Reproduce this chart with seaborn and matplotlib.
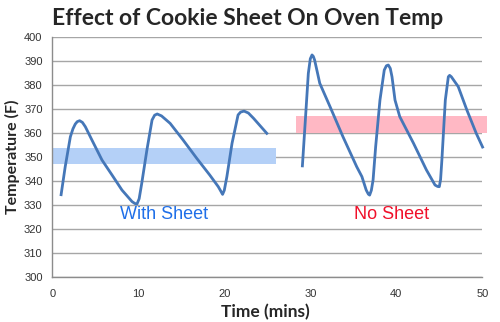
import matplotlib
matplotlib.use("Agg")
import matplotlib.pyplot as plt
import seaborn as sns
import pandas as pd

# Data
with_time = [1.0, 1.5, 2.1, 2.4, 2.67, 2.9, 3.18, 3.5, 3.84, 4.6, 5.78, 6.94, 8.1,
             9.27, 9.6, 9.85, 10.1, 10.4, 11.0, 11.6, 11.9, 12.2, 12.7, 13.7, 15.2,
             16.8, 18.3, 19.3, 19.6, 19.8, 20.0, 20.3, 20.9, 21.6, 21.9, 22.3, 22.8,
             23.4, 25.05]
with_temp = [333.6, 345.8, 358.3, 361.6, 363.6, 364.6, 365.0, 364.3, 362.5, 357.0,
             348.6, 342.4, 336.1, 331.3, 330.5, 330.3, 332.5, 338.9, 352.8, 365.3,
             367.3, 367.8, 367.0, 363.9, 357.0, 349.3, 342.4, 337.5, 335.6, 334.3,
             336.0, 341.7, 355.6, 367.4, 368.6, 369.0, 368.2, 366.0, 359.3]

no_time = [29.07, 29.4, 29.77, 30.0, 30.2, 30.35, 30.5, 30.8, 31.1, 32.3, 33.8,
           35.4, 36.0, 36.5, 36.75, 36.9, 37.1, 37.3, 37.6, 38.1, 38.6, 38.85,
           39.07, 39.3, 39.5, 39.85, 40.4, 42.0, 43.5, 44.5, 44.8, 45.0, 45.15,
           45.3, 45.7, 46.05, 46.2, 46.4, 47.2, 48.2, 49.3, 50.1]
no_temp = [345.6, 363.9, 384.7, 390.8, 392.4, 391.8, 390.3, 385.5, 380.6, 370.8,
           358.3, 345.8, 341.7, 336.1, 334.4, 334.0, 336.0, 340.3, 354.2, 373.6,
           386.1, 387.9, 388.2, 386.8, 383.3, 373.6, 366.7, 355.6, 344.5, 338.2,
           337.6, 337.5, 340.5, 348.6, 373.6, 383.3, 383.9, 383.3, 379.2, 369.5,
           359.7, 353.5]

with_band = (0.0, 26.0, 347.0, 353.5)   # x0, x1, y0, y1
no_band = (28.3, 50.6, 359.8, 367.0)

x_ticks = [0, 10, 20, 30, 40, 50]
y_ticks = [300, 310, 320, 330, 340, 350, 360, 370, 380, 390, 400]

title = "Effect of Cookie Sheet On Oven Temp"
xlabel = "Time (mins)"
ylabel = "Temperature (F)"

sns.set_style("white")
plt.rcParams['font.family'] = ['Lato', 'DejaVu Sans']

fig = plt.figure(figsize=(5, 3.22), dpi=100)
ax = fig.add_axes([0.1046, 0.1407, 0.86, 0.7453])

for yv in y_ticks:
    ax.axhline(yv, color="#a6a6a6", lw=1.0, zorder=0)

ax.fill_between([with_band[0], with_band[1]], with_band[2], with_band[3],
                color="#b4d0f7", lw=0, zorder=1)
pb = ax.fill_between([no_band[0], no_band[1]], no_band[2], no_band[3],
                     color="#ffb8c4", lw=0, zorder=1)
pb.set_clip_on(False)

df_w = pd.DataFrame({"t": with_time, "T": with_temp})
df_n = pd.DataFrame({"t": no_time, "T": no_temp})
sns.lineplot(data=df_w, x="t", y="T", sort=False, color="#4577b8", lw=2.0, ax=ax, zorder=3)
sns.lineplot(data=df_n, x="t", y="T", sort=False, color="#4577b8", lw=2.0, ax=ax, zorder=3)
for ln in ax.lines:
    if ln.get_zorder() == 3:
        ln.set_clip_on(False)
        ln.set_solid_capstyle("butt")
        ln.set_solid_joinstyle("round")

ax.set_xlim(0, 50)
ax.set_ylim(300, 400)
ax.set_xticks(x_ticks)
ax.set_yticks(y_ticks)
for s in ["top", "right"]:
    ax.spines[s].set_visible(False)
for s in ["left", "bottom"]:
    ax.spines[s].set_color("#8c8c8c")
    ax.spines[s].set_linewidth(1.0)
ax.tick_params(axis="both", length=4, width=1, color="#8c8c8c", direction="out",
               labelsize=8, labelcolor="#333333", pad=3)
ax.tick_params(axis="x", pad=5)
for lab in ax.get_xticklabels() + ax.get_yticklabels():
    lab.set_family(["Liberation Sans", "DejaVu Sans"])

ax.set_xlabel(xlabel, fontsize=12.5, fontweight="bold")
ax.set_ylabel(ylabel, fontsize=11.5, fontweight="bold")
ax.xaxis.set_label_coords(0.495, -0.147)
ax.yaxis.set_label_coords(-0.093, 0.5)
ax.xaxis.label.set_va("center")
ax.yaxis.label.set_va("center")

ax.text(13.0, 326, "With Sheet", color="#1f6fe8", fontsize=13, ha="center", va="center",
        family=["Liberation Sans", "DejaVu Sans"])
ax.text(39.5, 326, "No Sheet", color="#f0102a", fontsize=13, ha="center", va="center",
        family=["Liberation Sans", "DejaVu Sans"])

fig.text(0.496, 0.944, title, fontsize=16.5, fontweight="bold", ha="center", va="center")

fig.savefig("out.png", dpi=100)
